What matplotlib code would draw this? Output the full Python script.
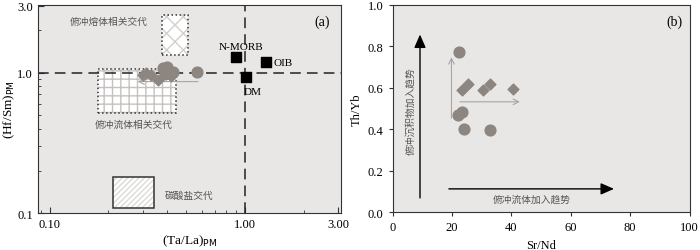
import matplotlib
matplotlib.use("Agg")
import matplotlib.pyplot as plt
from matplotlib.patches import Rectangle
from matplotlib.ticker import FixedLocator, NullFormatter, LogLocator

plt.rcParams['font.family'] = ['Liberation Serif', 'Noto Sans CJK SC']

# ---- panel (a) data: (Ta/La)PM vs (Hf/Sm)PM ----
a_circle_x = [0.38, 0.40, 0.39, 0.43, 0.57]
a_circle_y = [1.08, 1.10, 0.98, 1.02, 1.02]
a_diamond_x = [0.30, 0.31, 0.33, 0.36, 0.42]
a_diamond_y = [0.97, 1.00, 0.97, 0.89, 0.95]
ref_names = ["N-MORB", "OIB", "DM"]
ref_x = [0.90, 1.28, 1.01]
ref_y = [1.30, 1.19, 0.94]

# ---- panel (b) data: Sr/Nd vs Th/Yb ----
b_circle_x = [22.4, 23.2, 22.1, 24.1, 32.8]
b_circle_y = [0.77, 0.485, 0.466, 0.40, 0.395]
b_diamond_x = [23.4, 25.5, 30.3, 32.9, 40.4]
b_diamond_y = [0.589, 0.617, 0.589, 0.619, 0.592]

bg = "#e9e7e5"
mk = "#8c8580"
cjk = ['Noto Sans CJK SC', 'DejaVu Sans']

fig = plt.figure(figsize=(7, 2.51), dpi=100)
ax1 = fig.add_axes([0.054, 0.147, 0.433, 0.83])
ax2 = fig.add_axes([0.561, 0.151, 0.424, 0.826])

# ---------------- panel (a) ----------------
ax1.set_facecolor(bg)
ax1.set_xscale("log")
ax1.set_yscale("log")
ax1.set_xlim(0.087, 3.1)
ax1.set_ylim(0.1, 3.05)

# metasomatism fields
fields = [
    # x0, x1, y0, y1, hatch, hatch colour, border style
    (0.375, 0.51, 1.34, 2.56, "xx", "#d2cfcc", ":"),
    (0.176, 0.443, 0.514, 1.07, "++", "#c4c1be", ":"),
    (0.21, 0.341, 0.108, 0.182, "//////", "#dcdad7", "-"),
]
for x0, x1, y0, y1, h, hc, ls in fields:
    ax1.add_patch(Rectangle((x0, y0), x1 - x0, y1 - y0, facecolor="white",
                            edgecolor=hc, hatch=h, linewidth=0, zorder=1))
    ax1.add_patch(Rectangle((x0, y0), x1 - x0, y1 - y0, facecolor="none",
                            edgecolor="#333333", linestyle=ls, linewidth=1.1, zorder=2))

ax1.text(0.20, 2.35, "俯冲熔体相关交代", family=cjk, fontsize=7, color="#555555",
         ha="center", va="center")
ax1.text(0.27, 0.43, "俯冲流体相关交代", family=cjk, fontsize=7, color="#555555",
         ha="center", va="center")
ax1.text(0.52, 0.135, "碳酸盐交代", family=cjk, fontsize=7, color="#555555",
         ha="center", va="center")

ax1.axvline(1.0, color="#222222", linestyle=(0, (7, 4)), linewidth=1.1, zorder=2)
ax1.axhline(1.0, color="#222222", linestyle=(0, (7, 4)), linewidth=1.1, zorder=2)

ax1.annotate("", xy=(0.273, 0.865), xytext=(0.595, 0.865),
             arrowprops=dict(arrowstyle="->", color="#a8a5a2", lw=0.8), zorder=3)

ax1.scatter(a_circle_x, a_circle_y, marker="o", s=60, color=mk, zorder=4)
ax1.scatter(a_diamond_x, a_diamond_y, marker="D", s=30, color=mk, zorder=4)
ax1.scatter(ref_x, ref_y, marker="s", s=60, color="black", zorder=5)

ax1.text(0.95, 1.55, "N-MORB", fontsize=8, ha="center", va="center")
ax1.text(1.40, 1.19, "OIB", fontsize=8, ha="left", va="center")
ax1.text(1.10, 0.74, "DM", fontsize=8, ha="center", va="center")
ax1.text(0.965, 0.955, "(a)", transform=ax1.transAxes, fontsize=10,
         ha="right", va="top")

ax1.xaxis.set_major_locator(FixedLocator([0.1, 1.0, 3.0]))
ax1.set_xticklabels(["0.10", "1.00", "3.00"])
ax1.xaxis.set_minor_locator(LogLocator(base=10, subs=[2, 3, 4, 5, 6, 7, 8, 9]))
ax1.xaxis.set_minor_formatter(NullFormatter())
ax1.yaxis.set_major_locator(FixedLocator([0.1, 1.0, 3.0]))
ax1.set_yticklabels(["0.1", "1.0", "3.0"])
ax1.yaxis.set_minor_locator(LogLocator(base=10, subs=[2, 3, 4, 5, 6, 7, 8, 9]))
ax1.yaxis.set_minor_formatter(NullFormatter())
ax1.tick_params(which="both", direction="in", labelsize=9, color="#333333")
ax1.tick_params(which="major", length=4)
ax1.tick_params(which="minor", length=2.5)
ax1.set_xlabel("(Ta/La)$_{\\rm PM}$", fontsize=9.5, labelpad=2)
ax1.set_ylabel("(Hf/Sm)$_{\\rm PM}$", fontsize=9.5, labelpad=0)

# ---------------- panel (b) ----------------
ax2.set_facecolor(bg)
ax2.set_xlim(0, 100)
ax2.set_ylim(0, 1.0)

ax2.annotate("", xy=(9.2, 0.87), xytext=(9.2, 0.055),
             arrowprops=dict(arrowstyle="-|>,head_length=0.8,head_width=0.35",
                             color="black", lw=1.0))
ax2.annotate("", xy=(75.5, 0.112), xytext=(18, 0.112),
             arrowprops=dict(arrowstyle="-|>,head_length=0.8,head_width=0.35",
                             color="black", lw=1.0))
ax2.annotate("", xy=(19.8, 0.76), xytext=(19.8, 0.44),
             arrowprops=dict(arrowstyle="->", color="#a8a5a2", lw=0.8))
ax2.annotate("", xy=(43.8, 0.532), xytext=(21.7, 0.532),
             arrowprops=dict(arrowstyle="->", color="#a8a5a2", lw=0.8))

ax2.text(5.8, 0.49, "俯冲沉积物加入趋势", family=cjk, fontsize=7, color="#555555",
         rotation=90, ha="center", va="center")
ax2.text(46.7, 0.065, "俯冲流体加入趋势", family=cjk, fontsize=7, color="#555555",
         ha="center", va="center")

ax2.scatter(b_circle_x, b_circle_y, marker="o", s=60, color=mk, zorder=4)
ax2.scatter(b_diamond_x, b_diamond_y, marker="D", s=30, color=mk, zorder=4)
ax2.text(0.975, 0.955, "(b)", transform=ax2.transAxes, fontsize=10,
         ha="right", va="top")

ax2.set_xticks([0, 20, 40, 60, 80, 100])
ax2.set_yticks([0.0, 0.2, 0.4, 0.6, 0.8, 1.0])
ax2.set_yticklabels(["0.0", "0.2", "0.4", "0.6", "0.8", "1.0"])
ax2.tick_params(direction="out", length=3, labelsize=9, color="#333333")
ax2.set_xlabel("Sr/Nd", fontsize=9, labelpad=4)
ax2.set_ylabel("Th/Yb", fontsize=9, labelpad=4)

for ax in (ax1, ax2):
    for sp in ax.spines.values():
        sp.set_color("#333333")
        sp.set_linewidth(0.8)

fig.savefig("out.png", dpi=100)
